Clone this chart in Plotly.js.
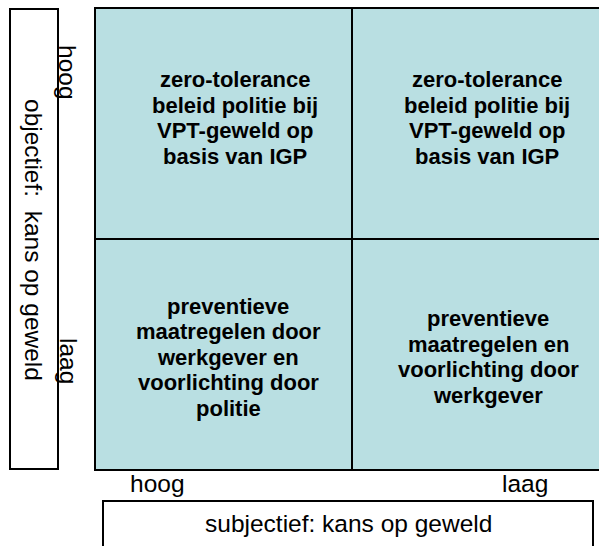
<!DOCTYPE html>
<html>
<head>
<meta charset="utf-8">
<script src="https://cdn.plot.ly/plotly-3.0.1.min.js"></script>
<style>html,body{margin:0;padding:0;background:#fff;overflow:hidden}</style>
</head>
<body>
<div id="chart" style="width:599px;height:546px"></div>
<script>
// ---- data ----
const subjectiefLevels = ['hoog', 'laag'];      // x (left -> right)
const objectiefLevels = ['laag', 'hoog'];       // y (bottom -> top)
const cellValues = [[1, 1], [1, 1]];            // uniform fill for all quadrants
const textLowHigh = ['preventieve', 'maatregelen door', 'werkgever en', 'voorlichting door', 'politie'];
const textLowLow = ['preventieve', 'maatregelen en', 'voorlichting door', 'werkgever'];
const textHighHigh = ['zero-tolerance', 'beleid politie bij', 'VPT-geweld op', 'basis van IGP'];
const textHighLow = ['zero-tolerance', 'beleid politie bij', 'VPT-geweld op', 'basis van IGP'];
const xAxisTitle = 'subjectief: kans op geweld';
const yAxisTitle = 'objectief:  kans op geweld';

// quadrant texts indexed [row (objectief)][col (subjectief)]
const quadrantTexts = [[textLowHigh, textLowLow], [textHighHigh, textHighLow]];

// ---- layout geometry ----
const W = 599, H = 546;
const M = {l: 96, r: 0, t: 9, b: 77};
const PW = W - M.l - M.r, PH = H - M.t - M.b;
const px2x = p => (p - M.l) / PW;
const px2y = p => (H - M.b - p) / PH;

const fill = '#B9DFE2';
const font = 'Liberation Sans, Arial, sans-serif';
const edges = [0, 1, 2];

const trace = {
  type: 'heatmap',
  z: cellValues,
  x: edges,
  y: edges,
  colorscale: [[0, fill], [1, fill]],
  showscale: false,
  hoverinfo: 'skip',
  zsmooth: false
};

const annotations = [];
const lineStep = 25.5;
const shiftStyle = [[{dx: 4, dy: -3}, {dx: 8, dy: -3}], [{dx: 11, dy: 6}, {dx: 7, dy: 6}]];
quadrantTexts.forEach((row, r) => {
  row.forEach((lines, c) => {
    const mid = (lines.length - 1) / 2;
    lines.forEach((t, i) => {
      annotations.push({
        x: c + 0.5, y: r + 0.5, xref: 'x', yref: 'y',
        text: '<b>' + t + '</b>', showarrow: false,
        xanchor: 'center', yanchor: 'middle',
        xshift: shiftStyle[r][c].dx,
        yshift: (mid - i) * lineStep + shiftStyle[r][c].dy,
        font: {family: font, size: 22, color: '#000'}
      });
    });
  });
});

const lblFont = {family: font, size: 24.5, color: '#000'};
// axis level labels
annotations.push({x: px2x(157), y: px2y(484), xref: 'paper', yref: 'paper', text: subjectiefLevels[0],
  showarrow: false, xanchor: 'center', yanchor: 'middle', font: lblFont});
annotations.push({x: px2x(525), y: px2y(484), xref: 'paper', yref: 'paper', text: subjectiefLevels[1],
  showarrow: false, xanchor: 'center', yanchor: 'middle', font: lblFont});
annotations.push({x: px2x(68), y: px2y(72), xref: 'paper', yref: 'paper', text: objectiefLevels[1],
  showarrow: false, textangle: 90, xanchor: 'center', yanchor: 'middle', font: lblFont});
annotations.push({x: px2x(69), y: px2y(361), xref: 'paper', yref: 'paper', text: objectiefLevels[0],
  showarrow: false, textangle: 90, xanchor: 'center', yanchor: 'middle', font: lblFont});
// axis titles in boxes
annotations.push({x: px2x(34), y: px2y(240), xref: 'paper', yref: 'paper', text: yAxisTitle,
  showarrow: false, textangle: 90, xanchor: 'center', yanchor: 'middle', font: lblFont});
annotations.push({x: px2x(348), y: px2y(523), xref: 'paper', yref: 'paper', text: xAxisTitle,
  showarrow: false, xanchor: 'center', yanchor: 'middle', font: lblFont});

const shapes = [
  {type: 'rect', xref: 'paper', yref: 'paper', x0: px2x(10), x1: px2x(58), y0: px2y(469), y1: px2y(9),
   line: {color: '#000', width: 2}, fillcolor: 'rgba(0,0,0,0)', layer: 'below'},
  {type: 'rect', xref: 'paper', yref: 'paper', x0: px2x(103), x1: px2x(593), y0: px2y(560), y1: px2y(501),
   line: {color: '#000', width: 2}, fillcolor: 'rgba(0,0,0,0)', layer: 'below'},
  // quadrant dividers at the category boundary
  {type: 'line', xref: 'x', yref: 'paper', x0: edges[1], x1: edges[1], y0: 0, y1: 1,
   line: {color: '#000', width: 2}, layer: 'above'},
  {type: 'line', xref: 'paper', yref: 'y', x0: 0, x1: 1, y0: edges[1], y1: edges[1],
   line: {color: '#000', width: 2}, layer: 'above'}
];

const layout = {
  width: W, height: H,
  margin: M,
  paper_bgcolor: '#fff', plot_bgcolor: '#fff',
  showlegend: false,
  xaxis: {range: [0, PW / 256], showticklabels: false, ticks: '',
          showgrid: false, zeroline: false,
          showline: true, linecolor: '#000', linewidth: 2, mirror: true, fixedrange: true},
  yaxis: {range: [0, 2], showticklabels: false, ticks: '',
          showgrid: false, zeroline: false,
          showline: true, linecolor: '#000', linewidth: 2, mirror: false, fixedrange: true},
  annotations: annotations,
  shapes: shapes
};

Plotly.newPlot('chart', [trace], layout, {displayModeBar: false, staticPlot: true});
</script>
</body>
</html>
